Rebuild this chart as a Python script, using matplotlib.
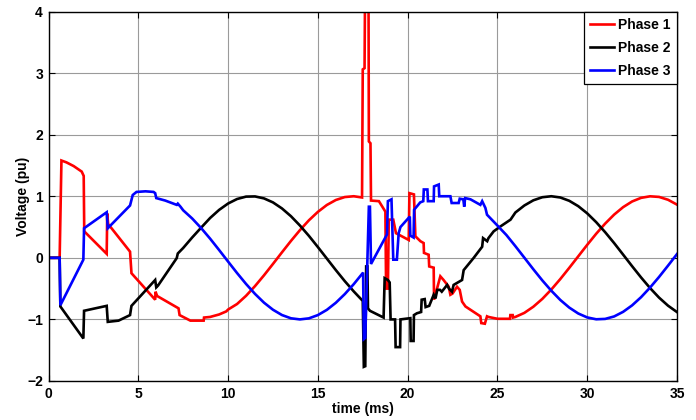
import matplotlib
matplotlib.use("Agg")
import matplotlib.pyplot as plt

plt.rcParams['font.family'] = ['Liberation Sans', 'DejaVu Sans']
plt.rcParams['font.weight'] = 'bold'

# (time in ms, voltage in pu) samples for each phase
phase1 = [
    (0, 0), (0.62, 0), (0.72, 1.58), (1.0, 1.55), (1.4, 1.49), (1.7, 1.43), (1.85, 1.40),
    (1.96, 1.33), (1.99, 0.43), (3.24, 0.065), (3.27, 0.72), (3.32, 0.55), (4.54, 0.10),
    (4.62, -0.25), (5.94, -0.68), (5.96, -0.55), (6.05, -0.62), (7.24, -0.82), (7.30, -0.93),
    (7.9, -1.02), (8.64, -1.02), (8.66, -0.97), (9.0, -0.96), (9.5, -0.92), (9.9, -0.87),
    (10.0, -0.84), (10.5, -0.75), (11.0, -0.617), (11.5, -0.459), (12.0, -0.284),
    (12.5, -0.099), (13.0, 0.089), (13.5, 0.274), (14.0, 0.449), (14.5, 0.609),
    (15.0, 0.746), (15.5, 0.858), (16.0, 0.939), (16.5, 0.987), (17.0, 1.0), (17.46, 0.98),
    (17.50, 3.06), (17.60, 3.08), (17.63, 4.4), (17.82, 4.4), (17.84, 1.89), (17.93, 1.86),
    (17.96, 0.93), (18.4, 0.92), (18.76, 0.75), (18.80, -0.50), (18.90, -0.50), (18.95, 0.62),
    (19.2, 0.62), (19.35, 0.40), (20.06, 0.29), (20.10, 1.05), (20.35, 1.03), (20.43, 0.35),
    (20.71, 0.27), (20.89, 0.24), (20.91, 0.08), (21.17, 0.05), (21.2, -0.14), (21.45, -0.16),
    (21.47, -0.68), (21.82, -0.30), (22.0, -0.36), (22.29, -0.47), (22.38, -0.60),
    (22.5, -0.58), (22.75, -0.47), (22.9, -0.52), (23.03, -0.71), (23.22, -0.79),
    (24.05, -0.95), (24.1, -1.06), (24.3, -1.07), (24.42, -0.95), (24.5, -0.96),
    (25.0, -0.99), (25.5, -0.99), (25.7, -0.99), (25.72, -0.93), (25.85, -0.93),
    (25.87, -0.97), (26.0, -0.96), (26.5, -0.894), (27.0, -0.794), (27.5, -0.667),
    (28.0, -0.515), (28.5, -0.345), (29.0, -0.163), (29.5, 0.024), (30.0, 0.211),
    (30.5, 0.391), (31.0, 0.556), (31.5, 0.702), (32.0, 0.823), (32.5, 0.915),
    (33.0, 0.974), (33.5, 0.999), (34.0, 0.989), (34.5, 0.943), (35.0, 0.864),
]

phase2 = [
    (0, 0), (0.62, 0), (0.66, -0.79), (1.94, -1.31), (1.98, -0.86), (3.24, -0.78),
    (3.30, -1.04), (3.9, -1.02), (4.54, -0.93), (4.62, -0.78), (5.94, -0.36), (6.0, -0.48),
    (6.1, -0.45), (7.14, -0.005), (7.2, 0.07), (7.5, 0.16), (8.0, 0.33), (8.5, 0.49),
    (9.0, 0.647), (9.5, 0.778), (10.0, 0.882), (10.5, 0.955), (11.0, 0.994), (11.5, 0.997),
    (12.0, 0.965), (12.5, 0.900), (13.0, 0.802), (13.5, 0.676), (14.0, 0.525),
    (14.5, 0.357), (15.0, 0.175), (15.5, -0.012), (16.0, -0.199), (16.5, -0.379),
    (17.0, -0.546), (17.50, -0.70), (17.56, -1.77), (17.64, -1.76), (17.69, -0.14),
    (17.76, -0.14), (17.79, -0.82), (17.90, -0.86), (18.66, -0.97), (18.72, -0.33),
    (18.9, -0.36), (19.0, -0.40), (19.05, -1.0), (19.3, -1.0), (19.33, -1.45),
    (19.58, -1.45), (19.6, -1.0), (20.15, -0.98), (20.17, -1.35), (20.33, -1.35),
    (20.35, -0.93), (20.52, -0.90), (20.75, -0.88), (20.78, -0.68), (20.95, -0.67),
    (21.0, -0.80), (21.2, -0.78), (21.45, -0.60), (21.55, -0.66), (21.65, -0.52),
    (21.8, -0.52), (21.9, -0.55), (22.2, -0.44), (22.3, -0.50), (22.47, -0.55),
    (22.56, -0.44), (23.03, -0.36), (23.12, -0.20), (23.68, 0.0), (24.15, 0.18),
    (24.2, 0.32), (24.43, 0.27), (24.5, 0.32), (24.79, 0.43), (25.17, 0.51),
    (25.73, 0.62), (26.0, 0.736), (26.5, 0.850), (27.0, 0.934), (27.5, 0.984),
    (28.0, 1.0), (28.5, 0.980), (29.0, 0.926), (29.5, 0.839), (30.0, 0.722),
    (30.5, 0.579), (31.0, 0.416), (31.5, 0.239), (32.0, 0.052), (32.5, -0.136),
    (33.0, -0.319), (33.5, -0.491), (34.0, -0.646), (34.5, -0.777), (35.0, -0.881),
]

phase3 = [
    (0, 0), (0.62, 0), (0.66, -0.77), (1.94, -0.03), (1.98, 0.48), (3.24, 0.74),
    (3.30, 0.48), (4.54, 0.85), (4.69, 1.02), (4.9, 1.07), (5.4, 1.08), (5.85, 1.07),
    (5.94, 1.05), (6.0, 0.97), (6.5, 0.93), (7.14, 0.86), (7.2, 0.88), (7.35, 0.83),
    (7.5, 0.772), (8.0, 0.639), (8.5, 0.483), (9.0, 0.311), (9.5, 0.127), (10.0, -0.061),
    (10.5, -0.247), (11.0, -0.424), (11.5, -0.586), (12.0, -0.728), (12.5, -0.843),
    (13.0, -0.929), (13.5, -0.982), (14.0, -1.0), (14.5, -0.983), (15.0, -0.930),
    (15.5, -0.845), (16.0, -0.730), (16.5, -0.589), (17.0, -0.427), (17.52, -0.24),
    (17.56, -1.32), (17.64, -1.30), (17.84, 0.83), (17.90, 0.83), (17.96, -0.10),
    (18.85, 0.38), (18.9, 0.92), (19.1, 0.95), (19.2, -0.03), (19.4, -0.03), (19.5, 0.40),
    (19.6, 0.50), (20.12, 0.67), (20.15, 0.36), (20.33, 0.33), (20.36, 0.78),
    (20.7, 0.90), (20.87, 0.92), (20.9, 1.11), (21.1, 1.11), (21.13, 0.92), (21.45, 0.92),
    (21.47, 1.16), (21.73, 1.19), (21.76, 1.0), (22.38, 1.0), (22.45, 0.89),
    (22.84, 0.89), (22.9, 0.96), (23.1, 0.95), (23.15, 0.83), (23.2, 0.97), (23.5, 0.95),
    (24.05, 0.86), (24.15, 0.92), (24.33, 0.81), (24.42, 0.70), (24.98, 0.53),
    (25.5, 0.370), (26.0, 0.189), (26.5, 0.002), (27.0, -0.186), (27.5, -0.367),
    (28.0, -0.534), (28.5, -0.684), (29.0, -0.808), (29.5, -0.904), (30.0, -0.968),
    (30.5, -0.998), (31.0, -0.992), (31.5, -0.952), (32.0, -0.877), (32.5, -0.772),
    (33.0, -0.639), (33.5, -0.483), (34.0, -0.311), (34.5, -0.127), (35.0, 0.061),
]

series_names = ['Phase 1', 'Phase 2', 'Phase 3']
series_colors = ['#ff0000', '#000000', '#0000ff']
x_ticks = [0, 5, 10, 15, 20, 25, 30, 35]
y_ticks = [-2, -1, 0, 1, 2, 3, 4]

fig = plt.figure(figsize=(6.96, 4.2), dpi=100)
ax = fig.add_axes([0.0697, 0.0929, 0.9030, 0.8797])

for data, name, color in zip([phase1, phase2, phase3], series_names, series_colors):
    t = [p[0] for p in data]
    v = [p[1] for p in data]
    ax.plot(t, v, color=color, lw=1.9, label=name, solid_joinstyle='miter')

ax.set_xlim(0, 35)
ax.set_ylim(-2, 4)
ax.set_xticks(x_ticks)
ax.set_yticks(y_ticks)
ax.grid(True, color='#9a9a9a', lw=0.8)
ax.set_axisbelow(True)
ax.tick_params(direction='in', length=4, width=0.8, top=True, right=True,
               labelsize=10, pad=4)
for lab in ax.get_xticklabels() + ax.get_yticklabels():
    lab.set_fontweight('bold')
for sp in ax.spines.values():
    sp.set_linewidth(1.0)
    sp.set_color('black')

ax.set_xlabel('time (ms)', fontsize=10, fontweight='bold', labelpad=1)
ax.set_ylabel('Voltage (pu)', fontsize=10, fontweight='bold', labelpad=-2)

leg = ax.legend(loc='upper right', borderaxespad=0, fancybox=False, framealpha=1,
                edgecolor='black', prop={'size': 10, 'weight': 'bold'},
                handlelength=1.75, handletextpad=0.3, labelspacing=0.65,
                borderpad=0.45)
leg.get_frame().set_linewidth(0.9)

fig.savefig('out.png', dpi=100)
